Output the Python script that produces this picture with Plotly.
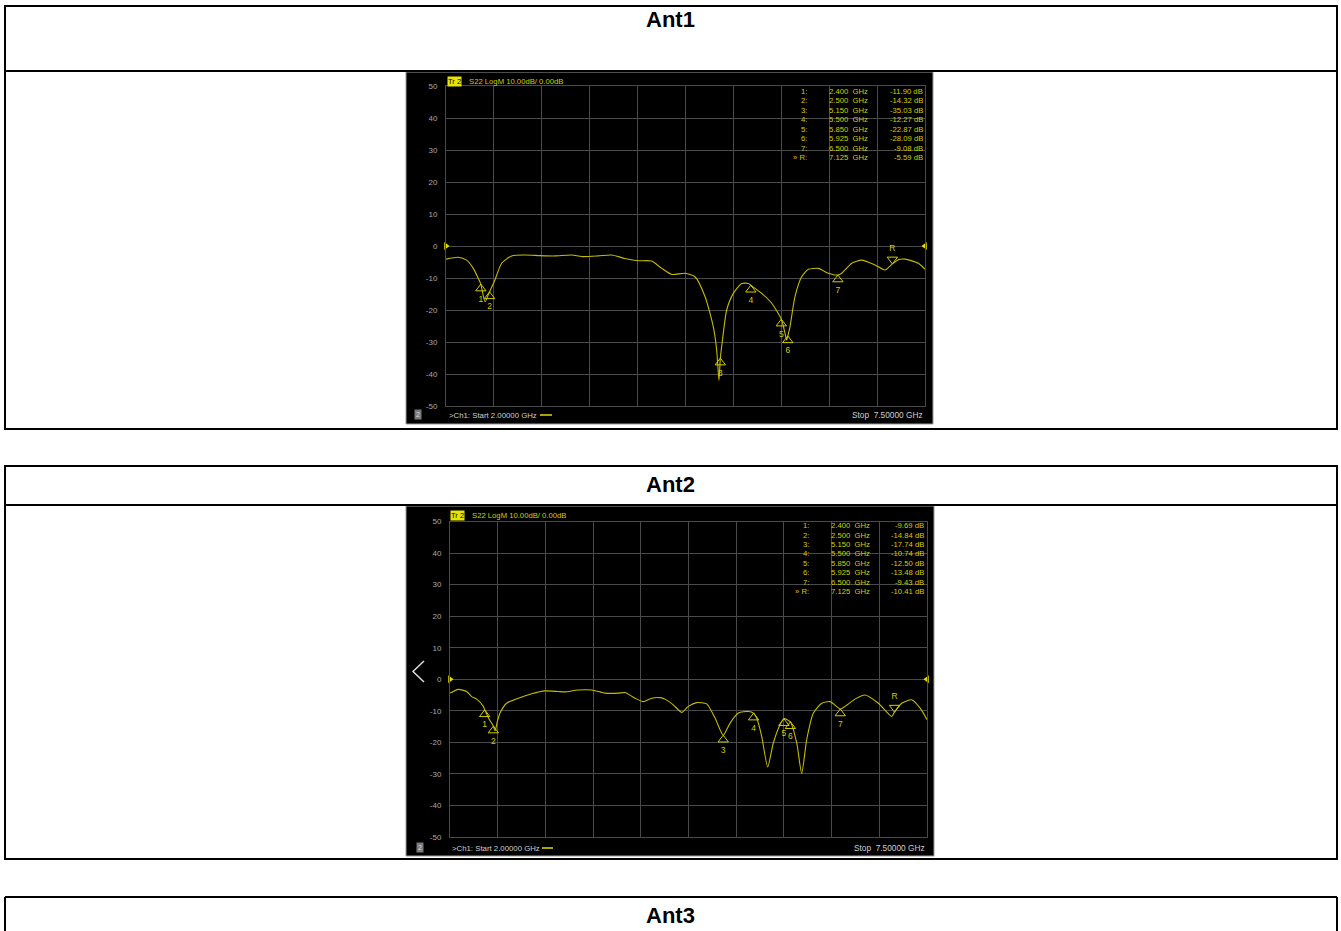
import plotly.graph_objects as go

W, H = 1341, 931

# ---------------- data ----------------
start_ghz = 2.0
stop_ghz = 7.5
y_tick_vals = [50, 40, 30, 20, 10, 0, -10, -20, -30, -40, -50]
panel_titles = ["Ant1", "Ant2", "Ant3"]

ant1_freq_ghz = [2.000, 2.141, 2.237, 2.313, 2.379, 2.400, 2.448, 2.500, 2.555, 2.639,
                 2.754, 2.907, 3.080, 3.250, 3.443, 3.558, 3.749, 3.902, 4.055, 4.208,
                 4.362, 4.477, 4.592, 4.744, 4.859, 4.974, 5.069, 5.108, 5.134, 5.150,
                 5.165, 5.223, 5.299, 5.395, 5.472, 5.500, 5.625, 5.740, 5.850, 5.893,
                 5.911, 5.925, 5.950, 6.007, 6.084, 6.160, 6.275, 6.390, 6.500, 6.544,
                 6.659, 6.773, 6.926, 7.041, 7.125, 7.200, 7.271, 7.424, 7.500]
ant1_s22_db = [-4.1, -3.5, -4.4, -7.0, -10.6, -11.9, -17.4, -14.32, -11.1, -5.4,
               -3.1, -2.8, -3.0, -3.1, -2.8, -3.3, -3.1, -2.8, -3.9, -4.6,
               -4.7, -7.0, -8.9, -8.5, -9.6, -15.8, -25.2, -32.5, -42.0, -35.03,
               -31.5, -20.0, -14.8, -11.7, -11.7, -12.27, -14.8, -17.9, -22.87, -27.3,
               -29.4, -28.09, -25.2, -15.8, -9.6, -7.3, -7.0, -8.5, -9.08, -8.5,
               -5.4, -4.4, -5.9, -7.5, -5.59, -4.2, -4.1, -5.4, -7.3]

ant2_freq_ghz = [2.000, 2.096, 2.192, 2.250, 2.308, 2.384, 2.400, 2.450, 2.500, 2.520,
                 2.545, 2.577, 2.653, 2.788, 2.942, 3.095, 3.249, 3.326, 3.479, 3.634,
                 3.787, 3.941, 4.018, 4.133, 4.229, 4.326, 4.441, 4.479, 4.575, 4.672,
                 4.748, 4.845, 4.960, 5.056, 5.150, 5.190, 5.230, 5.325, 5.441, 5.500,
                 5.536, 5.594, 5.663, 5.728, 5.805, 5.850, 5.925, 5.998, 6.055, 6.113,
                 6.190, 6.286, 6.382, 6.500, 6.555, 6.670, 6.786, 6.939, 7.093, 7.125,
                 7.208, 7.323, 7.419, 7.500]
ant2_s22_db = [-4.4, -3.2, -3.9, -5.5, -6.3, -8.6, -9.69, -12.6, -14.84, -16.3,
               -13.5, -10.7, -7.6, -6.0, -4.6, -3.7, -3.9, -4.0, -3.4, -3.4,
               -4.4, -4.4, -4.2, -6.0, -7.1, -6.0, -5.9, -6.3, -8.1, -10.5,
               -8.6, -7.4, -7.8, -12.3, -17.74, -16.0, -13.9, -10.7, -10.2, -10.74,
               -12.3, -18.1, -27.8, -20.2, -14.4, -12.5, -13.48, -20.2, -29.9, -19.1,
               -10.7, -7.6, -7.1, -9.43, -8.6, -6.3, -5.0, -7.6, -11.8, -10.41,
               -7.6, -6.5, -9.1, -12.8]

marker_labels = ["1", "2", "3", "4", "5", "6", "7", "R"]
marker_freq_ghz = [2.400, 2.500, 5.150, 5.500, 5.850, 5.925, 6.500, 7.125]
ant1_marker_db = [-11.90, -14.32, -35.03, -12.27, -22.87, -28.09, -9.08, -5.59]
ant2_marker_db = [-9.69, -14.84, -17.74, -10.74, -12.50, -13.48, -9.43, -10.41]

# ---------------- styling ----------------
FONT = "Liberation Sans, Arial, sans-serif"
YEL = "#d2cc00"
TRACE = "#c4bb00"
GRID = "#4a4a4a"
GREYTXT = "#cfcfcf"


def fx(x):
    return x / W


def fy(y):
    return 1 - y / H


panels = [
    dict(freq=ant1_freq_ghz, db=ant1_s22_db, mk=ant1_marker_db,
         frame=(406, 72, 933, 424), plot=(446, 86, 925, 406),
         tr=(454, 81), hdr_x=467, rows_y0=91.5, row_dy=9.45,
         col_lab=809, col_freq=827, col_val=924.5,
         bar_y=415, box_x=418, start_x=447, dash=(540, 552), stop_x=925),
    dict(freq=ant2_freq_ghz, db=ant2_s22_db, mk=ant2_marker_db,
         frame=(406, 506, 934, 856), plot=(450, 521.5, 927, 837),
         tr=(457, 515), hdr_x=470, rows_y0=525.7, row_dy=9.43,
         col_lab=811, col_freq=829, col_val=926,
         bar_y=848, box_x=420, start_x=450, dash=(542, 553), stop_x=926.5),
]

fig = go.Figure()
shapes = []
annotations = []


def ann(x, y, text, xanchor="center", size=8, color=YEL, bold=False, **kw):
    annotations.append(dict(
        x=fx(x), y=fy(y), xref="paper", yref="paper", text=text,
        showarrow=False, xanchor=xanchor, yanchor="middle",
        font=dict(family=FONT, size=size, color=color,
                  weight="bold" if bold else "normal"), **kw))


def line(x0, y0, x1, y1, color="black", width=2, layer="above"):
    shapes.append(dict(type="line", xref="paper", yref="paper",
                       x0=fx(x0), y0=fy(y0), x1=fx(x1), y1=fy(y1),
                       line=dict(color=color, width=width), layer=layer))


# ---- page tables ----
for (top, sep, bot) in [(6, 71, 429), (466, 505, 859)]:
    shapes.append(dict(type="rect", xref="paper", yref="paper",
                       x0=fx(5), x1=fx(1337), y0=fy(bot), y1=fy(top),
                       line=dict(color="black", width=2), layer="above"))
    line(5, sep, 1337, sep)
line(5, 897, 1337, 897)
line(5, 897, 5, 931)
line(1337, 897, 1337, 931)

ann(670, 19.5, panel_titles[0], size=22, color="black", bold=True)
ann(670, 484, panel_titles[1], size=22, color="black", bold=True)
ann(670, 915.5, panel_titles[2], size=22, color="black", bold=True)

layout_axes = {}
for i, p in enumerate(panels):
    xs = "x" if i == 0 else f"x{i + 1}"
    ys = "y" if i == 0 else f"y{i + 1}"
    fl, ft, fr, fb = p["frame"]
    shapes.append(dict(type="rect", xref="paper", yref="paper",
                       x0=fx(fl), x1=fx(fr), y0=fy(fb), y1=fy(ft),
                       fillcolor="black", line=dict(color="#9a9a9a", width=1),
                       layer="below"))
    pl, pt, pr, pb = p["plot"]
    layout_axes["xaxis" if i == 0 else f"xaxis{i + 1}"] = dict(
        domain=[fx(pl), fx(pr)], range=[start_ghz, stop_ghz], anchor=ys,
        tick0=start_ghz, dtick=(stop_ghz - start_ghz) / 10, automargin=False,
        showgrid=True, gridcolor=GRID, gridwidth=1, zeroline=False,
        showline=True, linecolor=GRID, mirror=True, showticklabels=False, ticks="")
    layout_axes["yaxis" if i == 0 else f"yaxis{i + 1}"] = dict(
        domain=[fy(pb), fy(pt)], range=[-50, 50], anchor=xs, automargin=False,
        tickvals=y_tick_vals, ticktext=[str(v) for v in y_tick_vals],
        tickfont=dict(family=FONT, size=8, color="#a8a8a8"),
        ticklabelstandoff=6,
        showgrid=True, gridcolor=GRID, gridwidth=1, zeroline=False,
        showline=True, linecolor=GRID, mirror=True, ticks="")

    # trace
    fig.add_trace(go.Scatter(x=p["freq"], y=p["db"], mode="lines",
                             line=dict(color=TRACE, width=1.1, shape="spline", smoothing=0.6),
                             xaxis=xs, yaxis=ys, hoverinfo="skip"))
    # markers (triangle tip touches the trace)
    off = 4.5 * 100 / (pb - pt)
    fig.add_trace(go.Scatter(
        x=marker_freq_ghz[:7], y=[v - off for v in p["mk"][:7]],
        mode="markers+text", text=marker_labels[:7], textposition="bottom center",
        textfont=dict(family=FONT, size=8.5, color=YEL),
        marker=dict(symbol="triangle-up-open", size=9, color=YEL, line=dict(width=1, color=YEL)),
        cliponaxis=False, xaxis=xs, yaxis=ys, hoverinfo="skip"))
    fig.add_trace(go.Scatter(
        x=marker_freq_ghz[7:], y=[v + off for v in p["mk"][7:]],
        mode="markers+text", text=marker_labels[7:], textposition="top center",
        textfont=dict(family=FONT, size=8.5, color=YEL),
        marker=dict(symbol="triangle-down-open", size=9, color=YEL, line=dict(width=1, color=YEL)),
        cliponaxis=False, xaxis=xs, yaxis=ys, hoverinfo="skip"))
    # reference level arrows
    fig.add_trace(go.Scatter(
        x=[start_ghz, stop_ghz], y=[0, 0], mode="markers",
        marker=dict(symbol=["triangle-right", "triangle-left"], size=7, color="#e6e000"),
        cliponaxis=False, xaxis=xs, yaxis=ys, hoverinfo="skip"))

    # header "Tr 2" + scale text
    ann(p["tr"][0], p["tr"][1], "Tr 2", size=7.5, color="black", bgcolor="#e8e400",
        borderpad=0)
    ann(p["hdr_x"], p["tr"][1], "S22 LogM 10.00dB/ 0.00dB", xanchor="left", size=7.7)

    # marker table
    for k, (lab, f, v) in enumerate(zip(marker_labels, marker_freq_ghz, p["mk"])):
        yy = p["rows_y0"] + k * p["row_dy"]
        lab_txt = f"{lab}:" if lab != "R" else "\u00bb R:"
        ann(p["col_lab"], yy, lab_txt, xanchor="right", size=7.7)
        ann(p["col_freq"], yy, f"{f:.3f}\u00a0\u00a0GHz", xanchor="left", size=7.7)
        ann(p["col_val"], yy, f"{v:.2f} dB", xanchor="right", size=7.7)

    # bottom status bar
    ann(p["box_x"], p["bar_y"] - 0.5, "2", size=7, color="#dddddd", bgcolor="#7a7a7a",
        borderpad=1)
    ann(p["start_x"], p["bar_y"],
        ">Ch1: Start " + f"{start_ghz:.5f} GHz",
        xanchor="left", size=7.8, color=GREYTXT)
    line(p["dash"][0], p["bar_y"], p["dash"][1], p["bar_y"], color="#e0dc00", width=1.5)
    ann(p["stop_x"], p["bar_y"], "Stop\u00a0\u00a0" + f"{stop_ghz:.5f} GHz",
        xanchor="right", size=8.3, color=GREYTXT)

# left chevron on the second screenshot
shapes.append(dict(type="path", xref="paper", yref="paper",
                   path=f"M {fx(424)} {fy(661)} L {fx(413)} {fy(671.5)} L {fx(424)} {fy(682)}",
                   line=dict(color="#dcdcdc", width=1.5), layer="above"))

fig.update_layout(
    width=W, height=H, autosize=False,
    margin=dict(l=0, r=0, t=0, b=0, pad=0, autoexpand=False),
    paper_bgcolor="white", plot_bgcolor="black", showlegend=False,
    shapes=shapes, annotations=annotations, font=dict(family=FONT),
    **layout_axes)

fig.write_html("out.html", config={"displayModeBar": False},
               post_script="document.body.style.margin='0';document.body.style.overflow='hidden';")
